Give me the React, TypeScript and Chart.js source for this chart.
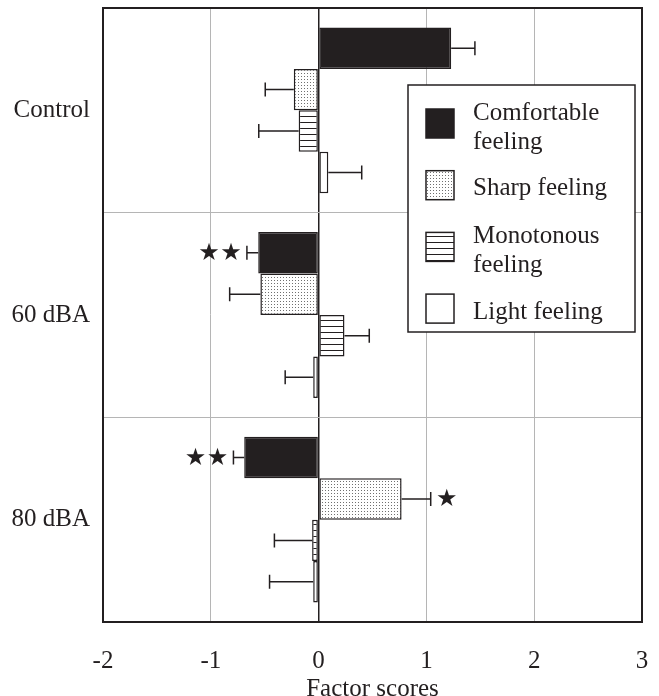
import React, { useEffect, useRef } from 'react';
import { Chart, registerables } from 'chart.js';

Chart.register(...registerables);

const categories = ['Control', '60 dBA', '80 dBA'];
const seriesNames = ['Comfortable feeling', 'Sharp feeling', 'Monotonous feeling', 'Light feeling'];

const comfortable = [1.23, -0.56, -0.69];
const comfortableErr = [0.22, 0.105, 0.1];
const comfortableSig = ['', '★★', '★★'];

const sharp = [-0.23, -0.54, 0.77];
const sharpErr = [0.265, 0.285, 0.27];
const sharpSig = ['', '', '★'];

const monotonous = [-0.185, 0.24, -0.06];
const monotonousErr = [0.37, 0.23, 0.35];
const monotonousSig = ['', '', ''];

const light = [0.09, -0.05, -0.05];
const lightErr = [0.31, 0.26, 0.405];
const lightSig = ['', '', ''];

const xMin = -2;
const xMax = 3;
const xStep = 1;
const xTitle = 'Factor scores';

const INK = '#231f20';
const SERIF = '"Liberation Serif", "Times New Roman", serif';
const FS = 25;

function dotPattern(): CanvasPattern | string {
  const c = document.createElement('canvas');
  c.width = 3;
  c.height = 3;
  const g = c.getContext('2d');
  if (!g) return '#ddd';
  g.fillStyle = '#ffffff';
  g.fillRect(0, 0, 3, 3);
  g.fillStyle = '#707070';
  g.fillRect(1, 1, 1, 1);
  return g.createPattern(c, 'repeat') || '#ddd';
}

function stripePattern(): CanvasPattern | string {
  const c = document.createElement('canvas');
  c.width = 6;
  c.height = 6;
  const g = c.getContext('2d');
  if (!g) return '#888';
  g.fillStyle = '#ffffff';
  g.fillRect(0, 0, 6, 6);
  g.fillStyle = INK;
  g.fillRect(0, 2, 6, 1);
  return g.createPattern(c, 'repeat') || '#888';
}

function wrapText(ctx: CanvasRenderingContext2D, text: string, maxW: number): string[] {
  const words = text.split(' ');
  const lines: string[] = [];
  let cur = '';
  for (const w of words) {
    const t = cur ? cur + ' ' + w : w;
    if (ctx.measureText(t).width > maxW && cur) {
      lines.push(cur);
      cur = w;
    } else {
      cur = t;
    }
  }
  if (cur) lines.push(cur);
  return lines;
}

const overlayPlugin = {
  id: 'overlay',
  afterDatasetsDraw(chart: any) {
    const { ctx, scales } = chart;
    const x = scales.x;
    ctx.save();
    chart.data.datasets.forEach((ds: any, i: number) => {
      const meta = chart.getDatasetMeta(i);
      meta.data.forEach((bar: any, j: number) => {
        const v = ds.data[j];
        const e = ds.errors[j];
        const s = v >= 0 ? 1 : -1;
        const endPx = x.getPixelForValue(v + s * e);
        const y = bar.y;
        ctx.strokeStyle = INK;
        ctx.lineWidth = 1.5;
        ctx.beginPath();
        ctx.moveTo(bar.x, y);
        ctx.lineTo(endPx, y);
        ctx.moveTo(endPx, y - 7);
        ctx.lineTo(endPx, y + 7);
        ctx.stroke();
        const stars = Array.from((ds.sig && ds.sig[j]) || '') as string[];
        ctx.fillStyle = INK;
        ctx.font = '24px "DejaVu Sans"';
        ctx.textAlign = 'center';
        ctx.textBaseline = 'middle';
        stars.forEach((st, k) => {
          ctx.fillText(st, endPx + s * (16 + 22 * k), y + 1);
        });
      });
    });
    ctx.restore();
  },
  afterDraw(chart: any) {
    const { ctx, chartArea } = chart;
    ctx.save();
    ctx.strokeStyle = INK;
    ctx.lineWidth = 2;
    ctx.strokeRect(chartArea.left, chartArea.top, chartArea.right - chartArea.left, chartArea.bottom - chartArea.top);

    const bw = 227;
    const bh = 247;
    const bx = chartArea.right - 7 - bw;
    const by = chartArea.top + 77;
    ctx.fillStyle = '#ffffff';
    ctx.fillRect(bx, by, bw, bh);
    ctx.lineWidth = 1.5;
    ctx.strokeRect(bx, by, bw, bh);

    ctx.font = FS + 'px ' + SERIF;
    ctx.textAlign = 'left';
    ctx.textBaseline = 'alphabetic';
    chart.data.datasets.forEach((ds: any, i: number) => {
      const sy = by + 24 + 61.7 * i;
      const sx = bx + 18;
      const sw = 28;
      const sh = 29;
      ctx.fillStyle = ds.backgroundColor;
      ctx.fillRect(sx, sy, sw, sh);
      ctx.strokeStyle = INK;
      ctx.lineWidth = 1.5;
      ctx.strokeRect(sx, sy, sw, sh);
      ctx.fillStyle = INK;
      const lines = wrapText(ctx, ds.label, 150);
      const cy = sy + sh / 2;
      if (lines.length > 1) {
        ctx.fillText(lines[0], bx + 65, cy - 4);
        ctx.fillText(lines[1], bx + 65, cy + 25);
      } else {
        ctx.fillText(lines[0], bx + 65, cy + 10);
      }
    });
    ctx.restore();
  },
};

export default function App() {
  const ref = useRef<HTMLCanvasElement | null>(null);

  useEffect(() => {
    if (!ref.current) return;
    Chart.defaults.font.family = SERIF;
    Chart.defaults.font.size = FS;
    Chart.defaults.color = INK;

    const dots = dotPattern();
    const stripes = stripePattern();

    const mk = (label: string, data: number[], errors: number[], sig: string[], bg: any) => ({
      label,
      data,
      errors,
      sig,
      backgroundColor: bg,
      borderColor: INK,
      borderWidth: 1.5,
      borderSkipped: false,
      barPercentage: 1,
      categoryPercentage: 0.81,
    });

    const chart = new Chart(ref.current, {
      type: 'bar',
      data: {
        labels: categories,
        datasets: [
          mk(seriesNames[0], comfortable, comfortableErr, comfortableSig, INK),
          mk(seriesNames[1], sharp, sharpErr, sharpSig, dots),
          mk(seriesNames[2], monotonous, monotonousErr, monotonousSig, stripes),
          mk(seriesNames[3], light, lightErr, lightSig, '#ffffff'),
        ] as any,
      },
      options: {
        indexAxis: 'y',
        animation: false,
        responsive: false,
        layout: { padding: { left: 0, right: 17, top: 8, bottom: 0 } },
        plugins: {
          legend: { display: false },
          tooltip: { enabled: false },
        },
        scales: {
          x: {
            type: 'linear',
            min: xMin,
            max: xMax,
            ticks: { stepSize: xStep, padding: 24, color: INK, font: { size: FS, family: SERIF } },
            grid: {
              drawTicks: false,
              color: (c: any) => (c.tick && c.tick.value === 0 ? INK : '#b5b5b5'),
              lineWidth: (c: any) => (c.tick && c.tick.value === 0 ? 1.5 : 1),
            },
            border: { display: true, color: INK, width: 2 },
            title: {
              display: true,
              text: xTitle,
              color: INK,
              font: { size: FS, family: SERIF },
              padding: { top: 0, bottom: -8 },
            },
            afterFit: (s: any) => {
              s.height = 74;
              s.paddingLeft = 0;
              s.paddingRight = 0;
            },
          },
          y: {
            type: 'category',
            ticks: { padding: 13, color: INK, font: { size: FS, family: SERIF } },
            grid: { drawTicks: false, color: '#b5b5b5', lineWidth: 1, offset: true },
            border: { display: true, color: INK, width: 2 },
            afterFit: (s: any) => {
              s.width = 103;
              s.paddingTop = 0;
              s.paddingBottom = 0;
            },
          },
        },
      } as any,
      plugins: [overlayPlugin],
    });
    return () => chart.destroy();
  }, []);

  return (
    <div style={{ position: 'absolute', left: 0, top: 0, width: 659, height: 696, background: '#fff' }}>
      <canvas ref={ref} width={659} height={696} style={{ display: 'block' }} />
    </div>
  );
}
